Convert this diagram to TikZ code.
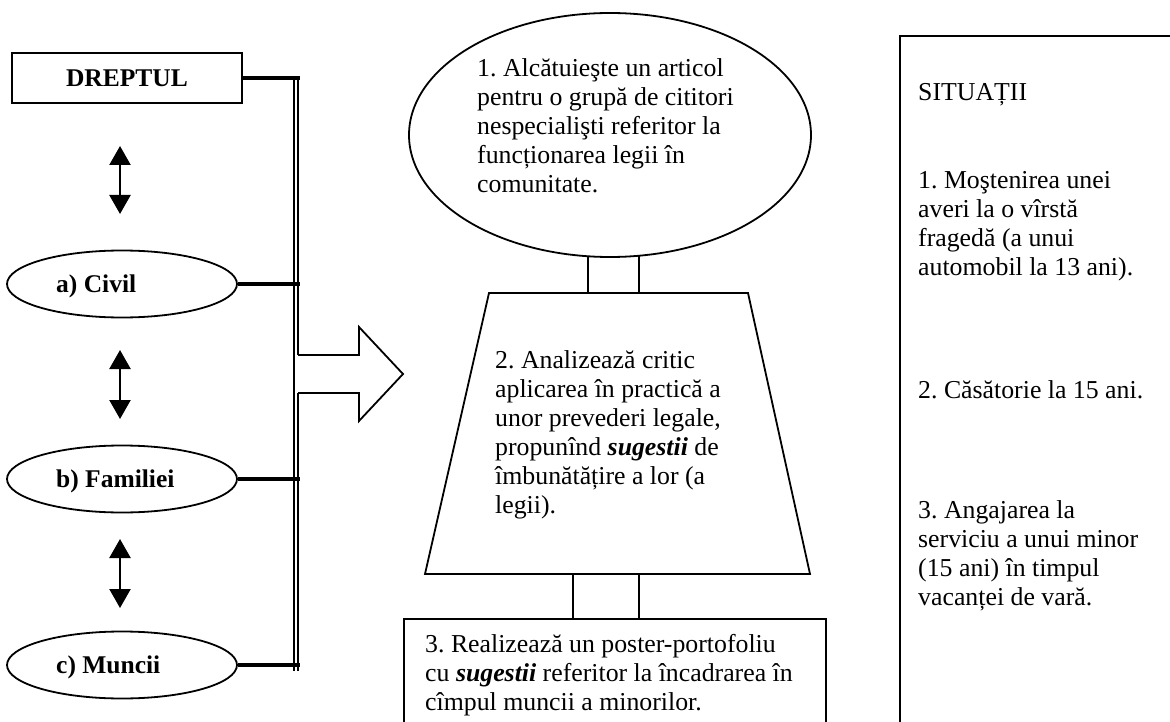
\documentclass[tikz,border=0pt]{standalone}
\usepackage{fontspec}
\setmainfont{Liberation Serif}
\usetikzlibrary{shapes.geometric,arrows.meta}
\frenchspacing
\begin{document}
\begin{tikzpicture}[x=1pt,y=-1pt,
  shapeline/.style={line width=1.8pt},
  link/.style={line width=3.4pt},
  txt/.style={font=\fontsize{25.8}{29}\selectfont, align=left, anchor=north west, inner sep=0pt},
  lbl/.style={font=\fontsize{25.5}{29}\selectfont\bfseries, inner sep=0pt},
  oval/.style={draw, ellipse, shapeline, fill=white, inner sep=0pt},
  dblarrow/.style={line width=2.4pt, {Triangle[width=21pt,length=19pt]}-{Triangle[width=21pt,length=19pt]}},
]
\useasboundingbox (0,0) rectangle (1170,722);
\clip (0,0) rectangle (1170,722);

% ---------- left column ----------
\node[draw, shapeline, lbl, minimum width=230pt, minimum height=50pt] (drept) at (127,78) {DREPTUL};
\node[oval, minimum width=230pt, minimum height=67pt] (civ) at (122,284) {};
\node[oval, minimum width=230pt, minimum height=67pt] (fam) at (122,479) {};
\node[oval, minimum width=230pt, minimum height=67pt] (mun) at (122,665) {};
\node[lbl, anchor=base west] (civt) at (56,292) {a) Civil};
\node[lbl, anchor=base west] (famt) at (56,487) {b) Familiei};
\node[lbl, anchor=base west] (munt) at (56,673) {c) Muncii};

% double arrows
\coordinate (a1t) at (120,146); \coordinate (a1b) at (120,214);
\coordinate (a2t) at (120,350); \coordinate (a2b) at (120,419);
\coordinate (a3t) at (120,539); \coordinate (a3b) at (120,608);
\draw[dblarrow] (a1t) -- (a1b);
\draw[dblarrow] (a2t) -- (a2b);
\draw[dblarrow] (a3t) -- (a3b);

% bus (double line)
\coordinate (busE) at (299.5,0);
\coordinate (busLt) at (293.8,77.5); \coordinate (busLb) at (293.8,671);
\coordinate (busRt) at (298.2,77.5); \coordinate (busRb) at (298.2,671);
\coordinate (arTop) at (298.2,355); \coordinate (arBot) at (298.2,393);
\draw[line width=1.6pt] (busLt) -- (busLb);
\draw[line width=1.6pt] (busRt) -- (arTop);
\draw[line width=1.6pt] (arBot) -- (busRb);

% connectors to bus
\draw[link] (drept.east) -- (drept.east -| busE);
\draw[link] (civ.east) -- (civ.east -| busE);
\draw[link] (fam.east) -- (fam.east -| busE);
\draw[link] (mun.east) -- (mun.east -| busE);

% big hollow arrow
\draw[shapeline, fill=white, line join=miter] (arTop) -- (359,355) -- (359,327) -- (403,374) -- (359,421) -- (359,393) -- (arBot);

% ---------- middle column ----------
\coordinate (c1a) at (588,245); \coordinate (c1b) at (639,245);
\coordinate (c2a) at (573,574); \coordinate (c2b) at (639,574);
\draw[shapeline] (c1a) -- (c1a |- 0,293);
\draw[shapeline] (c1b) -- (c1b |- 0,293);
\draw[shapeline] (c2a) -- (c2a |- 0,618);
\draw[shapeline] (c2b) -- (c2b |- 0,618);

\node[oval, minimum width=402pt, minimum height=244pt] (e1) at (610,135) {};
\node[txt] (e1t) at (477,58) {1. Alcătuieşte un articol\\pentru o grupă de cititori\\nespecialişti referitor la\\funcționarea legii în\\comunitate.};

\coordinate (tz1) at (489,293); \coordinate (tz2) at (748,293);
\coordinate (tz3) at (810,574); \coordinate (tz4) at (425,574);
\draw[shapeline, fill=white, line join=miter] (tz1) -- (tz2) -- (tz3) -- (tz4) -- cycle;
\node[txt] (t2) at (495,350) {2. Analizează critic\\aplicarea în practică a\\unor prevederi legale,\\propunînd \textbf{\textit{sugestii}} de\\îmbunătățire a lor (a\\legii).};

\node[draw, shapeline, anchor=north west, minimum width=422pt, minimum height=160pt, inner sep=0pt] (b3) at (403,618) {};
\node[txt] (b3t) at (425,634) {3. Realizează un poster-portofoliu\\cu \textbf{\textit{sugestii}} referitor la încadrarea în\\cîmpul muncii a minorilor.};

% ---------- right column ----------
\node[draw, shapeline, anchor=north west, minimum width=320pt, minimum height=760pt, inner sep=0pt] (rb) at (899,35) {};
\node[txt] (sit) at (918,83) {SITUAȚII};
\node[txt] (s1) at (918,171) {1. Moştenirea unei\\averi la o vîrstă\\fragedă (a unui\\automobil la 13 ani).};
\node[txt] (s2) at (918,380) {2. Căsătorie la 15 ani.};
\node[txt] (s3) at (918,500) {3. Angajarea la\\serviciu a unui minor\\(15 ani) în timpul\\vacanței de vară.};
\end{tikzpicture}
\end{document}
